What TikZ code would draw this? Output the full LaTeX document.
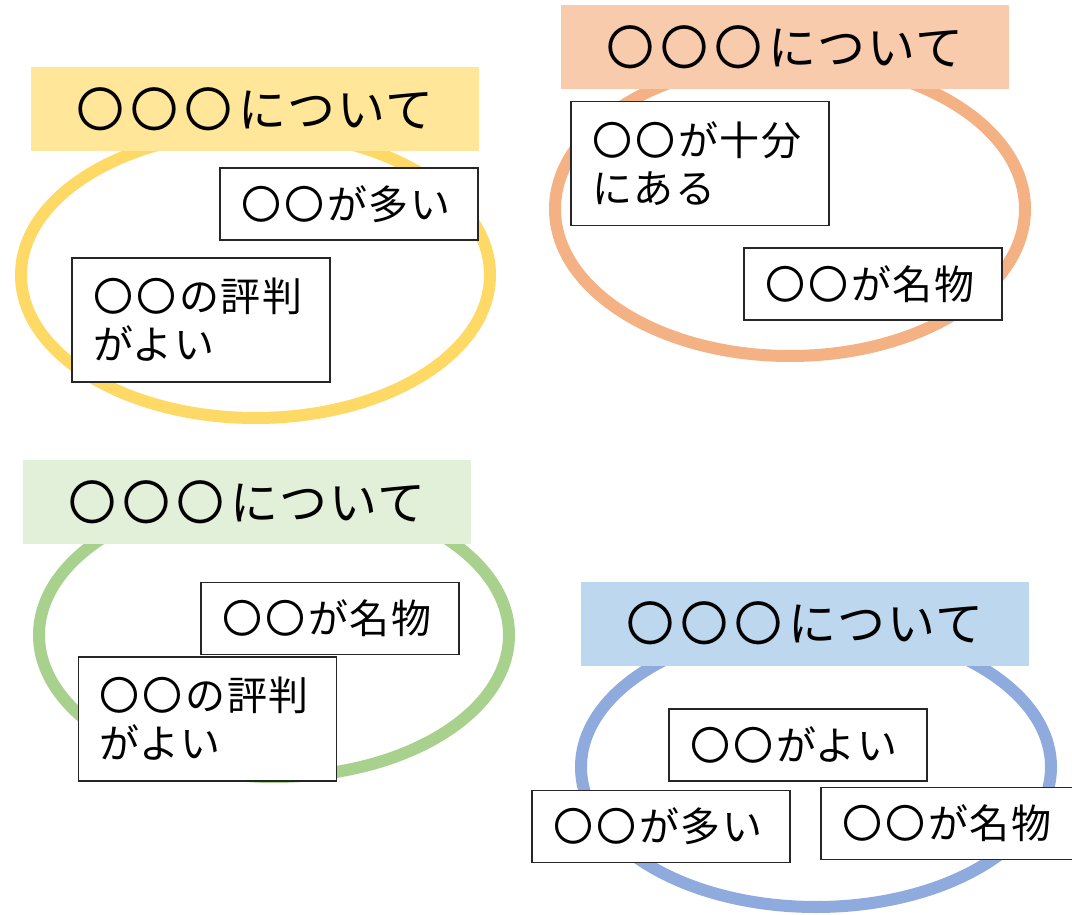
\documentclass[tikz,border=0pt]{standalone}
\usepackage{fontspec}
\newfontfamily\jptitle{Noto Sans CJK JP}[LetterSpace=3]
\newfontfamily\jpitem{Noto Sans CJK JP}[LetterSpace=4]
\newcommand\tgap{\kern6pt}
\newcommand\igap{\kern3pt}
\newcommand\titletext{〇\tgap〇\tgap〇\tgap について}
\definecolor{ylring}{HTML}{FFD966}
\definecolor{ylfill}{HTML}{FFE699}
\definecolor{orring}{HTML}{F4B183}
\definecolor{orfill}{HTML}{F8CBAD}
\definecolor{grring}{HTML}{A9D18E}
\definecolor{grfill}{HTML}{E2F0D9}
\definecolor{blring}{HTML}{8FAADC}
\definecolor{blfill}{HTML}{BDD7EE}
\tikzset{
  titlebox/.style={rectangle, minimum width=448pt, minimum height=84pt, inner sep=0pt,
    font=\jptitle\fontsize{48}{56}\selectfont},
  itembox/.style={rectangle, draw=black!85, line width=1.5pt, fill=white,
    minimum width=258pt, text width=216pt, align=left, inner sep=0pt,
    font=\jpitem\fontsize{40}{48}\selectfont},
  oneline/.style={itembox, minimum height=72pt},
  twoline/.style={itembox, minimum height=124pt},
  ring/.style={line width=12pt}
}
\begin{document}
\begin{tikzpicture}[x=1pt,y=-1pt]
\useasboundingbox (0,0) rectangle (1072,915);
\fill[white] (0,0) rectangle (1072,915);

% group 1 (yellow)
\draw[ring, ylring] (255.5,275) ellipse [x radius=234.5pt, y radius=143pt];
\node[titlebox, fill=ylfill] (t1) at (255,109.5) {\titletext};
\node[oneline] (a1) at (349,204) {〇\igap〇\igap が多い};
\node[twoline] (b1) at (201,320) {〇\igap〇\igap の評判\\がよい};

% group 2 (orange)
\draw[ring, orring] (790,209) ellipse [x radius=235pt, y radius=147pt];
\node[titlebox, fill=orfill] (t2) at (785,47) {\titletext};
\node[twoline] (a2) at (700,163.5) {〇\igap〇\igap が十分\\にある};
\node[oneline] (b2) at (873,284) {〇\igap〇\igap が名物};

% group 3 (green)
\draw[ring, grring] (274,635) ellipse [x radius=235pt, y radius=142pt];
\node[titlebox, fill=grfill] (t3) at (247,502) {\titletext};
\node[oneline] (a3) at (330,618.5) {〇\igap〇\igap が名物};
\node[twoline] (b3) at (207.5,719) {〇\igap〇\igap の評判\\がよい};

% group 4 (blue)
\draw[ring, blring] (816,767) ellipse [x radius=235pt, y radius=140pt];
\node[titlebox, fill=blfill] (t4) at (805,623.5) {\titletext};
\node[oneline] (a4) at (798,745) {〇\igap〇\igap がよい};
\node[oneline] (b4) at (661,826.5) {〇\igap〇\igap が多い};
\node[oneline] (c4) at (950,823.5) {〇\igap〇\igap が名物};
\end{tikzpicture}
\end{document}
